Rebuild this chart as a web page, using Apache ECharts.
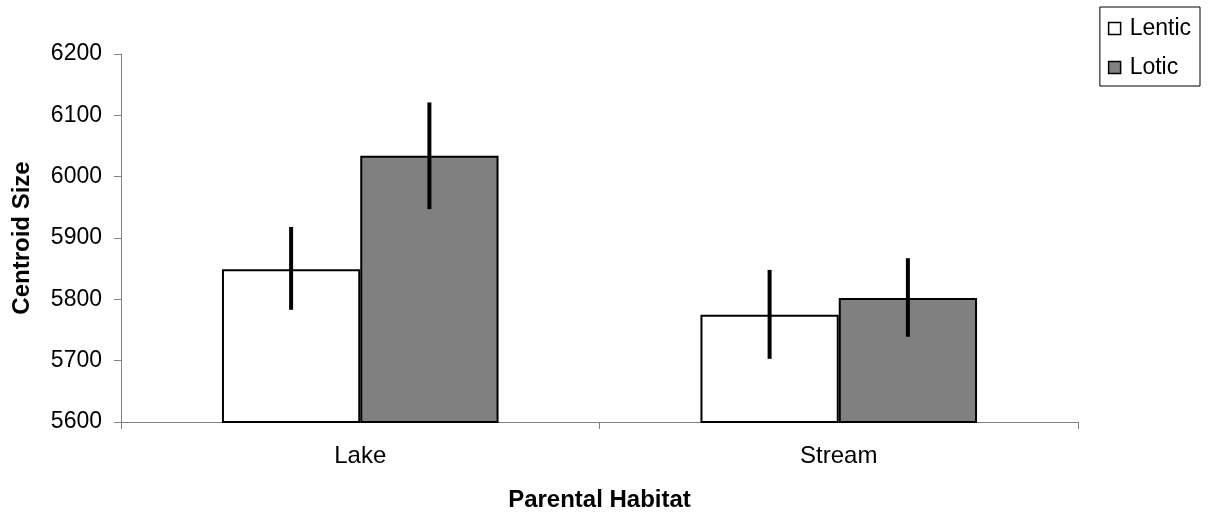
<!DOCTYPE html>
<html>
<head>
<meta charset="utf-8">
<script src="https://cdn.jsdelivr.net/npm/echarts@6/dist/echarts.min.js"></script>
<style>html,body{margin:0;padding:0;background:#fff}#c{width:1209px;height:519px}</style>
</head>
<body>
<div id="c"></div>
<script>
const categories = ['Lake', 'Stream'];
const lenticValues = [5849, 5775];
const loticValues = [6034, 5802];
const lenticErrLow = [5783, 5703];
const lenticErrHigh = [5918, 5848];
const loticErrLow = [5947, 5739];
const loticErrHigh = [6121, 5867];
const yTicks = [5600, 5700, 5800, 5900, 6000, 6100, 6200];

const chart = echarts.init(document.getElementById('c'), null, {renderer: 'canvas'});
const FONT = 'Liberation Sans, Arial, sans-serif';

function errSeries(name, low, high, offsetIdx) {
  return {
    type: 'custom',
    name: name + ' err',
    z: 10,
    silent: true,
    data: categories.map((c, i) => [i, low[i], high[i]]),
    renderItem: function (params, api) {
      const ci = api.value(0);
      const lo = api.coord([ci, api.value(1)]);
      const hi = api.coord([ci, api.value(2)]);
      const bw = api.size([1, 0])[0];
      const barW = bw * 0.289;
      const x = lo[0] + (offsetIdx === 0 ? -barW / 2 : barW / 2);
      return {
        type: 'line',
        shape: {x1: x, y1: lo[1], x2: x, y2: hi[1]},
        style: {stroke: '#000', lineWidth: 4}
      };
    }
  };
}

chart.setOption({
  animation: false,
  backgroundColor: '#fff',
  grid: {left: 121, right: 131, top: 54, bottom: 97, containLabel: false},
  legend: {
    right: 9, top: 7,
    orient: 'vertical',
    icon: 'rect',
    itemWidth: 12, itemHeight: 12, itemGap: 16,
    padding: [10, 9, 7, 8],
    borderColor: '#000', borderWidth: 1,
    textStyle: {fontFamily: FONT, fontSize: 23, color: '#000', padding: [0, 0, 0, 4]},
    data: [
      {name: 'Lentic', itemStyle: {color: '#fff', borderColor: '#000', borderWidth: 1.5}},
      {name: 'Lotic', itemStyle: {color: '#808080', borderColor: '#000', borderWidth: 1.5}}
    ]
  },
  xAxis: {
    type: 'category',
    data: categories,
    name: 'Parental Habitat',
    nameLocation: 'middle',
    nameGap: 66,
    nameTextStyle: {fontFamily: FONT, fontSize: 24, fontWeight: 'bold', color: '#000'},
    axisLine: {lineStyle: {color: '#808080', width: 1}},
    axisTick: {show: true, alignWithLabel: false, length: 7, lineStyle: {color: '#808080'}},
    axisLabel: {fontFamily: FONT, fontSize: 24, color: '#000', margin: 22}
  },
  yAxis: {
    type: 'value',
    min: 5600, max: 6200, interval: 100,
    name: 'Centroid Size',
    nameLocation: 'middle',
    nameGap: 87,
    nameTextStyle: {fontFamily: FONT, fontSize: 24, fontWeight: 'bold', color: '#000'},
    axisLine: {show: true, lineStyle: {color: '#808080', width: 1}},
    axisTick: {show: true, length: 7, lineStyle: {color: '#808080'}},
    splitLine: {show: false},
    axisLabel: {fontFamily: FONT, fontSize: 23, color: '#000', margin: 19,
      formatter: v => yTicks.includes(v) ? String(v) : ''}
  },
  series: [
    {
      name: 'Lentic', type: 'bar', data: lenticValues,
      barWidth: '28.9%', barGap: '0%',
      itemStyle: {color: '#fff', borderColor: '#000', borderWidth: 2}
    },
    {
      name: 'Lotic', type: 'bar', data: loticValues,
      barWidth: '28.9%', barGap: '0%',
      itemStyle: {color: '#808080', borderColor: '#000', borderWidth: 2}
    },
    errSeries('Lentic', lenticErrLow, lenticErrHigh, 0),
    errSeries('Lotic', loticErrLow, loticErrHigh, 1)
  ]
});
</script>
</body>
</html>
